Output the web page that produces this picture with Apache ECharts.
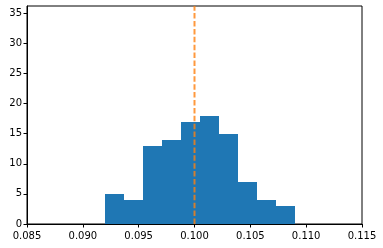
<!DOCTYPE html>
<html><head><meta charset="utf-8">
<script src="https://cdn.jsdelivr.net/npm/echarts@6/dist/echarts.min.js"></script>
<style>html,body{margin:0;padding:0;background:#fff}#c{width:383px;height:248px}</style>
</head><body><div id="c"></div>
<script>
var binEdges = [0.0920, 0.0937, 0.0954, 0.0971, 0.0988, 0.1005, 0.1022, 0.1039, 0.1056, 0.1073, 0.1090];
var counts = [5, 4, 13, 14, 17, 18, 15, 7, 4, 3];
var refValue = 0.1;
var xTicks = [0.085, 0.090, 0.095, 0.100, 0.105, 0.110, 0.115];
var yTicks = [0, 5, 10, 15, 20, 25, 30, 35];
var yMax = 36.2;

var bars = counts.map(function (c, i) { return [binEdges[i], binEdges[i + 1], c]; });
var chart = echarts.init(document.getElementById('c'), null, {renderer: 'canvas'});
var font = {fontFamily: 'DejaVu Sans', fontSize: 10, color: '#000'};
chart.setOption({
  animation: false,
  grid: {left: 27, right: 21, top: 6, bottom: 24, show: true, borderColor: '#000', borderWidth: 1, backgroundColor: 'transparent'},
  xAxis: {
    type: 'value', min: xTicks[0], max: xTicks[xTicks.length - 1], interval: 0.005,
    splitLine: {show: false},
    axisLine: {show: true, onZero: false, lineStyle: {color: '#000', width: 1}},
    axisTick: {show: true, length: 3.5, lineStyle: {color: '#000'}, customValues: xTicks},
    axisLabel: Object.assign({margin: 7, formatter: function (v) { return v.toFixed(3); }, customValues: xTicks}, font)
  },
  yAxis: {
    type: 'value', min: 0, max: yMax,
    splitLine: {show: false},
    axisLine: {show: true, lineStyle: {color: '#000', width: 1}},
    axisTick: {show: true, length: 3.5, lineStyle: {color: '#000'}, customValues: yTicks},
    axisLabel: Object.assign({margin: 5, customValues: yTicks}, font)
  },
  series: [{
    type: 'custom',
    data: bars,
    renderItem: function (params, api) {
      var p0 = api.coord([api.value(0), 0]);
      var p1 = api.coord([api.value(1), api.value(2)]);
      var x0 = Math.round(p0[0]), x1 = Math.round(p1[0]);
      var yb = Math.round(p0[1]), yt = Math.round(p1[1]);
      return {type: 'rect', shape: {x: x0, y: yt, width: x1 - x0, height: yb - yt},
        style: {fill: '#1f77b4'}};
    },
    encode: {x: [0, 1], y: 2}
  }, {
    type: 'line',
    data: [[refValue, 0], [refValue, yMax]],
    symbol: 'none',
    lineStyle: {color: '#ff7f0e', opacity: 0.8, width: 2, type: [5.5, 2.4]},
    z: 5
  }]
});
</script></body></html>
